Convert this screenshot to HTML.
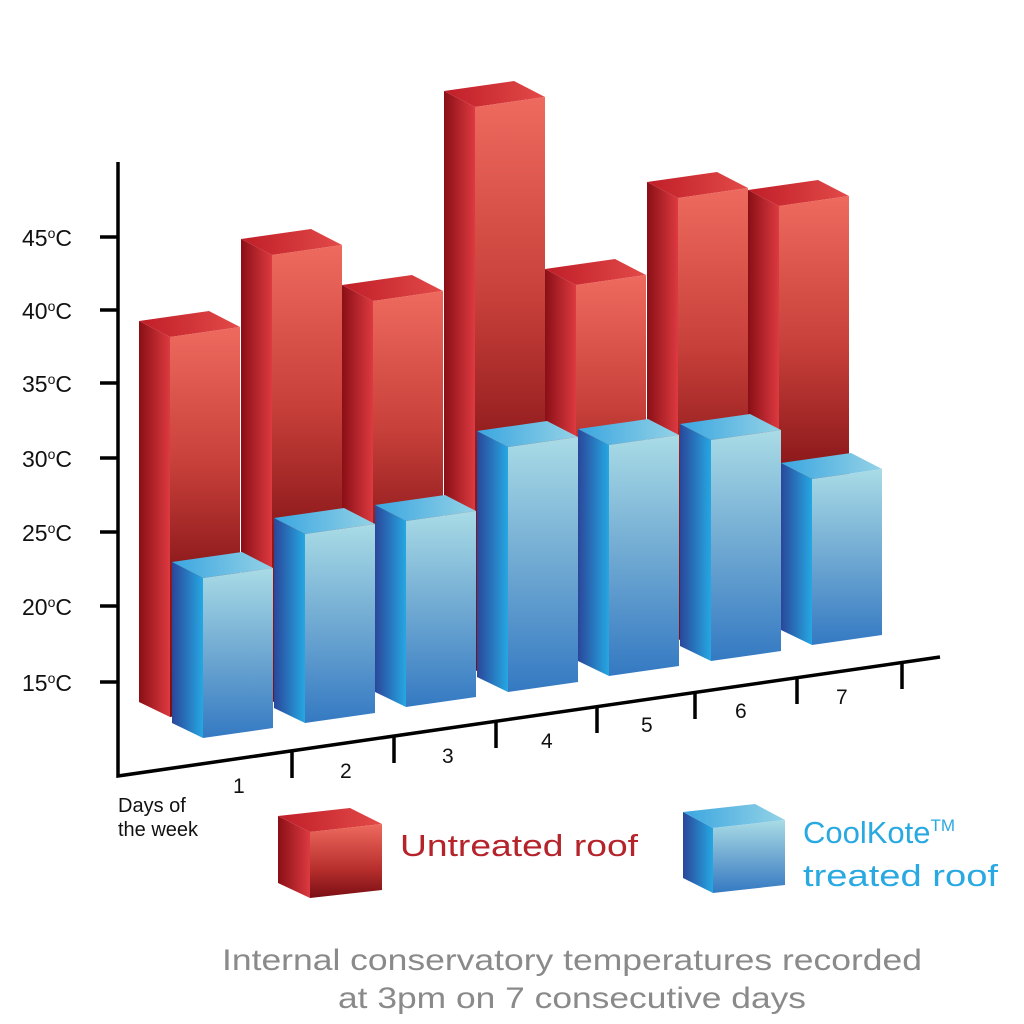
<!DOCTYPE html>
<html><head><meta charset="utf-8"><style>
html,body{margin:0;padding:0;background:#fff}
svg{display:block}
text{font-family:"Liberation Sans",sans-serif}
</style></head><body>
<svg width="1024" height="1024" viewBox="0 0 1024 1024" xmlns="http://www.w3.org/2000/svg">
<defs>
<linearGradient id="rf" x1="0" y1="0" x2="0" y2="1"><stop offset="0" stop-color="#ee6a5e"/><stop offset="0.35" stop-color="#c8403a"/><stop offset="0.62" stop-color="#8e1a1c"/><stop offset="1" stop-color="#7a1015"/></linearGradient>
<linearGradient id="rl" x1="0" y1="0" x2="0" y2="1"><stop offset="0" stop-color="#ee6a5e"/><stop offset="0.6" stop-color="#b8302e"/><stop offset="1" stop-color="#7a0e14"/></linearGradient>
<linearGradient id="rs" x1="0" y1="0" x2="1" y2="0"><stop offset="0" stop-color="#8a0f16"/><stop offset="1" stop-color="#dc3a40"/></linearGradient>
<linearGradient id="rt" x1="0" y1="0" x2="1" y2="0"><stop offset="0" stop-color="#c01e28"/><stop offset="1" stop-color="#e24a48"/></linearGradient>
<linearGradient id="bf" x1="0" y1="0" x2="0" y2="1"><stop offset="0" stop-color="#a9dce6"/><stop offset="0.5" stop-color="#70a9d2"/><stop offset="1" stop-color="#3479c2"/></linearGradient>
<linearGradient id="bs" x1="0" y1="0" x2="1" y2="0"><stop offset="0" stop-color="#2a469a"/><stop offset="1" stop-color="#26a8e2"/></linearGradient>
<linearGradient id="bt" x1="0" y1="0" x2="1" y2="0"><stop offset="0" stop-color="#3aa6e0"/><stop offset="1" stop-color="#94d2e6"/></linearGradient>
</defs>
<!-- red bars -->
<polygon fill="url(#rs)" points="170,337 139,321 139,702 170,717"/>
<polygon fill="url(#rt)" points="170,337 139,321 209,311 240,327"/>
<polygon fill="url(#rf)" points="170,337 240,327 240,707 170,717"/>
<polygon fill="url(#rs)" points="272,255 241,239 241,687 272,702"/>
<polygon fill="url(#rt)" points="272,255 241,239 311,229 342,245"/>
<polygon fill="url(#rf)" points="272,255 342,245 342,692 272,702"/>
<polygon fill="url(#rs)" points="373,301 342,285 342,671 373,686"/>
<polygon fill="url(#rt)" points="373,301 342,285 412,275 443,291"/>
<polygon fill="url(#rf)" points="373,301 443,291 443,676 373,686"/>
<polygon fill="url(#rs)" points="475,107 444,91 444,656 475,671"/>
<polygon fill="url(#rt)" points="475,107 444,91 514,81 545,97"/>
<polygon fill="url(#rf)" points="475,107 545,97 545,661 475,671"/>
<polygon fill="url(#rs)" points="576,285 545,269 545,640 576,655"/>
<polygon fill="url(#rt)" points="576,285 545,269 615,259 646,275"/>
<polygon fill="url(#rf)" points="576,285 646,275 646,645 576,655"/>
<polygon fill="url(#rs)" points="678,198 647,182 647,625 678,640"/>
<polygon fill="url(#rt)" points="678,198 647,182 717,172 748,188"/>
<polygon fill="url(#rf)" points="678,198 748,188 748,630 678,640"/>
<polygon fill="url(#rs)" points="779,206 748,190 748,609 779,624"/>
<polygon fill="url(#rt)" points="779,206 748,190 818,180 849,196"/>
<polygon fill="url(#rf)" points="779,206 849,196 849,614 779,624"/>
<!-- blue bars -->
<polygon fill="url(#bs)" points="203,578 172,562 172,723 203,738"/>
<polygon fill="url(#bt)" points="203,578 172,562 242,552 273,568"/>
<polygon fill="url(#bf)" points="203,578 273,568 273,728 203,738"/>
<polygon fill="url(#bs)" points="305,534 274,518 274,708 305,723"/>
<polygon fill="url(#bt)" points="305,534 274,518 344,508 375,524"/>
<polygon fill="url(#bf)" points="305,534 375,524 375,713 305,723"/>
<polygon fill="url(#bs)" points="406,521 375,505 375,692 406,707"/>
<polygon fill="url(#bt)" points="406,521 375,505 445,495 476,511"/>
<polygon fill="url(#bf)" points="406,521 476,511 476,697 406,707"/>
<polygon fill="url(#bs)" points="508,447 477,431 477,677 508,692"/>
<polygon fill="url(#bt)" points="508,447 477,431 547,421 578,437"/>
<polygon fill="url(#bf)" points="508,447 578,437 578,682 508,692"/>
<polygon fill="url(#bs)" points="609,445 578,429 578,661 609,676"/>
<polygon fill="url(#bt)" points="609,445 578,429 648,419 679,435"/>
<polygon fill="url(#bf)" points="609,445 679,435 679,666 609,676"/>
<polygon fill="url(#bs)" points="711,440 680,424 680,646 711,661"/>
<polygon fill="url(#bt)" points="711,440 680,424 750,414 781,430"/>
<polygon fill="url(#bf)" points="711,440 781,430 781,651 711,661"/>
<polygon fill="url(#bs)" points="812,479 781,463 781,630 812,645"/>
<polygon fill="url(#bt)" points="812,479 781,463 851,453 882,469"/>
<polygon fill="url(#bf)" points="812,479 882,469 882,635 812,645"/>
<!-- axes -->
<g stroke="#000" stroke-width="3.5" fill="none">
<polyline points="118,162 118,776 940,657"/>
<line x1="100" y1="237" x2="118" y2="237"/><line x1="100" y1="310" x2="118" y2="310"/>
<line x1="100" y1="383" x2="118" y2="383"/><line x1="100" y1="458" x2="118" y2="458"/>
<line x1="100" y1="532" x2="118" y2="532"/><line x1="100" y1="606" x2="118" y2="606"/>
<line x1="100" y1="682" x2="118" y2="682"/>
<line x1="292" y1="751" x2="292" y2="778"/><line x1="394" y1="736" x2="394" y2="763"/>
<line x1="496" y1="721" x2="496" y2="748"/><line x1="597" y1="706" x2="597" y2="733"/>
<line x1="695" y1="692" x2="695" y2="719"/><line x1="797" y1="677" x2="797" y2="704"/>
<line x1="902" y1="662" x2="902" y2="689"/>
</g>
<g font-size="23" fill="#111">
<text x="22" y="246">45<tspan font-size="14" dy="-8">o</tspan><tspan dy="8">C</tspan></text>
<text x="22" y="319">40<tspan font-size="14" dy="-8">o</tspan><tspan dy="8">C</tspan></text>
<text x="22" y="392">35<tspan font-size="14" dy="-8">o</tspan><tspan dy="8">C</tspan></text>
<text x="22" y="467">30<tspan font-size="14" dy="-8">o</tspan><tspan dy="8">C</tspan></text>
<text x="22" y="541">25<tspan font-size="14" dy="-8">o</tspan><tspan dy="8">C</tspan></text>
<text x="22" y="615">20<tspan font-size="14" dy="-8">o</tspan><tspan dy="8">C</tspan></text>
<text x="22" y="691">15<tspan font-size="14" dy="-8">o</tspan><tspan dy="8">C</tspan></text>
</g>
<g font-size="21" fill="#111">
<text x="233" y="793">1</text><text x="340" y="778">2</text><text x="442" y="763">3</text>
<text x="541" y="748">4</text><text x="641" y="732">5</text><text x="735" y="718">6</text>
<text x="836" y="704">7</text>
<text x="118" y="812" font-size="20">Days of</text>
<text x="118" y="836" font-size="20">the week</text>
</g>
<!-- legend cubes -->
<polygon fill="url(#rs)" points="310,832 278,816 278,883 310,898"/>
<polygon fill="url(#rt)" points="310,832 278,816 350,808 382,824"/>
<polygon fill="url(#rl)" points="310,832 382,824 382,890 310,898"/>
<polygon fill="url(#bs)" points="713,828 683,812 683,878 713,893"/>
<polygon fill="url(#bt)" points="713,828 683,812 755,804 785,820"/>
<polygon fill="url(#bf)" points="713,828 785,820 785,885 713,893"/>
<text x="400" y="856" font-size="31" fill="#b5232b" textLength="238" lengthAdjust="spacingAndGlyphs">Untreated roof</text>
<text x="803" y="843" font-size="31" fill="#29a9e1">CoolKote<tspan font-size="17" dy="-12">TM</tspan></text>
<text x="803" y="886" font-size="31" fill="#29a9e1" textLength="195" lengthAdjust="spacingAndGlyphs">treated roof</text>
<text x="572" y="970" font-size="30" fill="#8a8a8a" text-anchor="middle" textLength="700" lengthAdjust="spacingAndGlyphs">Internal conservatory temperatures recorded</text>
<text x="572" y="1008" font-size="30" fill="#8a8a8a" text-anchor="middle" textLength="468" lengthAdjust="spacingAndGlyphs">at 3pm on 7 consecutive days</text>
</svg>
</body></html>
